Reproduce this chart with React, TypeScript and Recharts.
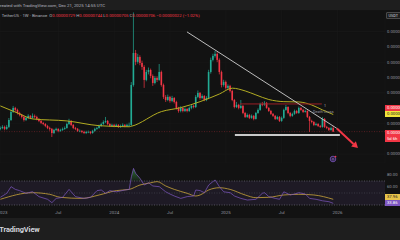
import {
  Area,
  Bar,
  CartesianGrid,
  ComposedChart,
  Line,
  ReferenceArea,
  ReferenceLine,
  XAxis,
  YAxis,
} from "recharts";

// prices in units of 0.00000001 USDT, one candle per week (week 0 = first week of 2023)
const firstWeek = -1;
const opens = [
  724, 730, 737, 724, 737, 782, 835, 861, 848, 828,
  815, 802, 782, 796, 809, 796, 809, 802, 789, 776,
  763, 756, 743, 730, 724, 697, 717, 724, 711, 717,
  724, 730, 756, 776, 750, 730, 724, 711, 711, 704,
  697, 704, 704, 697, 711, 724, 730, 743, 756, 769,
  776, 756, 743, 750, 743, 750, 737, 743, 750, 743,
  750, 750, 1011, 1220, 1162, 1194, 1155, 1129, 1044, 1096,
  1109, 1070, 1024, 1057, 1044, 1096, 1011, 933, 913, 933,
  907, 926, 900, 861, 841, 861, 841, 854, 841, 861,
  874, 867, 933, 959, 926, 939, 913, 926, 1096, 1175,
  1201, 1214, 1175, 1096, 1011, 1031, 992, 1005, 972, 913,
  867, 881, 861, 874, 828, 802, 815, 796, 809, 789,
  828, 848, 887, 881, 894, 861, 841, 822, 809, 789,
  802, 776, 796, 848, 867, 828, 809, 822, 841, 828,
  861, 848, 835, 841, 802, 776, 769, 750, 756, 743,
  737, 789, 737, 730, 717, 729,
];
const closes = [
  730, 737, 724, 737, 782, 835, 861, 848, 828, 815,
  802, 782, 796, 809, 796, 809, 802, 789, 776, 763,
  756, 743, 730, 724, 697, 717, 724, 711, 717, 724,
  730, 756, 776, 750, 730, 724, 711, 711, 704, 697,
  704, 704, 697, 711, 724, 730, 743, 756, 769, 776,
  756, 743, 750, 743, 750, 737, 743, 750, 743, 750,
  750, 1011, 1220, 1162, 1194, 1155, 1129, 1044, 1096, 1109,
  1070, 1024, 1057, 1044, 1096, 1011, 933, 913, 933, 907,
  926, 900, 861, 841, 861, 841, 854, 841, 861, 874,
  867, 933, 959, 926, 939, 913, 926, 1096, 1175, 1201,
  1214, 1175, 1096, 1011, 1031, 992, 1005, 972, 913, 867,
  881, 861, 874, 828, 802, 815, 796, 809, 789, 828,
  848, 887, 881, 894, 861, 841, 822, 809, 789, 802,
  776, 796, 848, 867, 828, 809, 822, 841, 828, 861,
  848, 835, 841, 802, 776, 769, 750, 756, 743, 737,
  789, 737, 730, 717, 729, 706,
];
const highs = [
  740, 748, 745, 750, 795, 850, 874, 868, 856, 836,
  822, 808, 805, 820, 815, 825, 818, 810, 795, 782,
  770, 762, 750, 738, 730, 724, 732, 728, 725, 733,
  740, 765, 790, 782, 756, 737, 730, 720, 716, 712,
  712, 713, 710, 718, 732, 738, 752, 765, 780, 802,
  782, 762, 758, 757, 758, 755, 752, 760, 756, 758,
  765, 1030, 1485, 1240, 1215, 1205, 1170, 1140, 1110, 1125,
  1118, 1080, 1070, 1068, 1148, 1105, 1020, 945, 948, 940,
  940, 932, 908, 868, 872, 866, 865, 860, 870, 885,
  882, 945, 975, 965, 950, 945, 938, 1110, 1190, 1215,
  1233, 1225, 1185, 1105, 1045, 1040, 1015, 1012, 980, 920,
  900, 888, 913, 880, 835, 825, 822, 818, 815, 835,
  858, 895, 900, 905, 900, 866, 848, 828, 815, 810,
  808, 805, 856, 880, 872, 835, 830, 850, 848, 870,
  866, 855, 850, 846, 808, 784, 775, 765, 762, 750,
  802, 795, 744, 736, 738, 744,
];
const lows = [
  715, 722, 715, 718, 730, 775, 828, 836, 818, 806,
  792, 772, 775, 788, 788, 790, 794, 780, 768, 755,
  748, 735, 722, 712, 671, 690, 710, 702, 705, 711,
  718, 725, 750, 742, 722, 716, 704, 702, 696, 690,
  690, 696, 689, 692, 705, 718, 725, 738, 750, 762,
  748, 736, 737, 735, 737, 730, 731, 736, 735, 737,
  740, 742, 1000, 1140, 1150, 1140, 1110, 992, 1035, 1080,
  1055, 1005, 1015, 1030, 1038, 1000, 920, 900, 905, 895,
  898, 890, 850, 830, 832, 832, 834, 832, 835, 852,
  858, 860, 925, 915, 918, 905, 905, 918, 1085, 1165,
  1190, 1160, 1080, 995, 1000, 980, 982, 962, 905, 858,
  860, 852, 855, 820, 795, 796, 788, 790, 780, 785,
  822, 842, 872, 875, 855, 835, 815, 802, 782, 783,
  769, 770, 790, 842, 820, 800, 803, 816, 822, 822,
  842, 828, 830, 795, 704, 760, 742, 744, 736, 730,
  732, 730, 722, 710, 712, 705,
];

// 50 week moving average
const maWeeks = [-1, 8, 14, 30, 45, 59, 60, 74, 83, 92, 101, 107, 113, 118, 124, 131, 138, 144, 149, 154];
const maValues = [874, 822, 789, 776, 745, 738, 741, 837, 863, 902, 952, 990, 972, 946, 916, 902, 900, 880, 848, 818];

// RSI 14 and its moving average
const rsiWeeks = [
  -1, 2, 4, 6, 8, 11, 14, 17, 21, 23, 25, 28, 31, 34, 38, 41, 44, 46, 48, 50, 53, 57, 59, 60, 61, 62,
  64, 66, 68, 70, 73, 76, 78, 80, 83, 86, 89, 90, 92, 94, 96, 98, 99, 101, 103, 106, 108, 111, 114,
  118, 121, 122, 124, 127, 129, 131, 134, 136, 138, 141, 143, 146, 149, 152, 154,
];
const rsiValues = [
  42.8, 49.5, 60.5, 56, 53.9, 49.5, 52.2, 43.9, 39.5, 33.9, 41, 42.8, 56, 43.9, 41, 42.8, 53.9, 55,
  49.5, 54, 52, 55, 56, 77, 91, 82.8, 74.5, 63.3, 67, 61.7, 60.5, 52, 48.3, 45, 41, 44, 45, 55, 54,
  50.5, 63.3, 69, 71.7, 60.5, 52, 50.5, 45, 41, 38.3, 39.5, 49.5, 50.5, 44, 41, 39.5, 52, 46.7, 48.3,
  50.5, 48.3, 41, 39.5, 37, 35.5, 32.8,
];
const rsiMaWeeks = [-1, 14, 22, 27, 37, 45, 53, 59, 64, 69, 72, 76, 80, 86, 90, 92, 96, 101, 106, 113, 118, 124, 131, 138, 145, 154];
const rsiMaValues = [39.5, 50.5, 47.8, 42.8, 41, 46.7, 54, 56, 63.3, 67, 69, 61.7, 56, 49.5, 45, 46.7, 55, 58.8, 56, 46.7, 42.2, 42.8, 46.7, 47.8, 46.7, 39.5];

const timeTickWeeks = [0, 26, 52, 78, 104, 130, 156];
const timeTickLabels = ["2023", "Jul", "2024", "Jul", "2025", "Jul", "2026"];
// the 0.00000660 and 0.00000860 ticks sit under the price labels, as do RSI 40
const priceTicks = [560, 760, 960, 1060, 1160, 1260, 1360];
const rsiTicks = [60, 80];

// drawings
const trendLine = [{ x: 85.9, y: 1358 }, { x: 155.7, y: 727 }];
const arrowLine = [{ x: 155.7, y: 727 }, { x: 165.5, y: 599 }];
const resistance = [{ x: 110.6, y: 887 }, { x: 148.7, y: 887 }];
const support = [{ x: 108.2, y: 684 }, { x: 157.1, y: 684 }];

const GREEN = "#22ab94";
const RED = "#f23645";
const TEXT = "#9598a1";
const FONT = "Roboto, 'Noto Sans', sans-serif";
const X_DOMAIN: [number, number] = [-1.16, 178.1];

const priceRows: any[] = closes.map((c, i) => ({
  w: firstWeek + i,
  open: opens[i],
  high: highs[i],
  low: lows[i],
  close: c,
  ma: null,
}));
maWeeks.forEach((w, k) => {
  priceRows[w - firstWeek].ma = maValues[k];
});

const rsiMap = new Map<number, any>();
rsiWeeks.forEach((w, k) => rsiMap.set(w, { ...(rsiMap.get(w) || { w }), rsi: rsiValues[k] }));
rsiMaWeeks.forEach((w, k) => rsiMap.set(w, { ...(rsiMap.get(w) || { w }), rsiMa: rsiMaValues[k] }));
const rsiRows = [...rsiMap.values()].sort((a, b) => a.w - b.w);

const rsiMax = Math.max(...rsiValues);
const rsiMin = Math.min(...rsiValues);
const overOff = (rsiMax - 70) / (rsiMax - rsiMin);

const fmtPrice = (v: number) => (v / 1e8).toFixed(8);
const fmtTime = (v: number) => timeTickLabels[timeTickWeeks.indexOf(v)] ?? "";

const Candle = (props: any) => {
  const { x, y, width, height, payload } = props;
  if (!payload) return null;
  const { open, close, high, low } = payload;
  const top = Math.min(y, y + height);
  const bottom = Math.max(y, y + height);
  const k = (bottom - top) / (high - low || 1);
  const cx = x + width / 2;
  const yo = top + (high - open) * k;
  const yc = top + (high - close) * k;
  const color = close >= open ? GREEN : RED;
  return (
    <g>
      <line x1={cx} x2={cx} y1={top} y2={bottom} stroke={color} strokeWidth={0.7} />
      <rect x={cx - 0.8} y={Math.min(yo, yc)} width={1.6} height={Math.max(Math.abs(yo - yc), 0.6)} fill={color} />
    </g>
  );
};

const Arrow = (p: any) => {
  const { x1, y1, x2, y2 } = p;
  const a = Math.atan2(y2 - y1, x2 - x1);
  const bx = x2 - 6 * Math.cos(a);
  const by = y2 - 6 * Math.sin(a);
  const px = -Math.sin(a) * 3.5;
  const py = Math.cos(a) * 3.5;
  return (
    <g>
      <line x1={x1} y1={y1} x2={bx} y2={by} stroke={RED} strokeWidth={2} />
      <polygon points={`${x2},${y2} ${bx + px},${by + py} ${bx - px},${by - py}`} fill={RED} />
    </g>
  );
};

const box = (top: number, h: number, bg: string, color: string): any => ({
  position: "absolute",
  left: 385,
  top,
  width: 15,
  height: h,
  background: bg,
  color,
  fontSize: 4.2,
  lineHeight: "5.5px",
  paddingLeft: 2,
  overflow: "hidden",
  whiteSpace: "nowrap",
  boxSizing: "border-box",
});

const App = () => {
  return (
    <div
      style={{
        position: "absolute",
        left: 0,
        top: 0,
        width: 400,
        height: 240,
        background: "#121212",
        overflow: "hidden",
        fontFamily: FONT,
      }}
    >
      <div style={{ position: "absolute", left: 0, top: 0, width: 400, height: 10, background: "#1e1e1e" }}>
        <div style={{ position: "absolute", left: -2.3, top: 2.5, fontSize: 4.4, color: "#b2b5be", whiteSpace: "nowrap" }}>
          created with TradingView.com, Dec 21, 2025 14:55 UTC
        </div>
      </div>

      <div style={{ position: "absolute", left: 0, top: 10 }}>
        <ComposedChart width={400} height={153} data={priceRows} margin={{ top: 0, right: 0, bottom: 0, left: 0 }}>
          <CartesianGrid stroke="#1a1a1a" strokeWidth={0.6} />
          <XAxis dataKey="w" type="number" domain={X_DOMAIN} ticks={timeTickWeeks} allowDataOverflow hide />
          <YAxis
            orientation="right"
            width={15}
            domain={[501, 1501]}
            ticks={priceTicks}
            allowDataOverflow
            axisLine={false}
            tickLine={false}
            tickSize={0}
            tickMargin={2}
            tickFormatter={fmtPrice}
            tick={{ fontSize: 4.2, fill: TEXT, fontFamily: FONT }}
          />
          <ReferenceLine y={706} stroke={RED} strokeOpacity={0.5} strokeDasharray="1 1.5" strokeWidth={0.6} />
          <Bar dataKey={(d: any) => [d.low, d.high]} barSize={2} shape={<Candle />} isAnimationActive={false} />
          <Line dataKey="ma" type="monotone" connectNulls stroke="#b3ac22" strokeWidth={1} dot={false} isAnimationActive={false} />
          <ReferenceLine segment={resistance} stroke="#9c1f26" strokeWidth={1} />
          <ReferenceLine segment={support} stroke="#c9c9c9" strokeWidth={1.8} />
          <ReferenceLine segment={trendLine} stroke="#cfcfcf" strokeWidth={0.9} />
          <ReferenceLine segment={arrowLine} stroke={RED} shape={<Arrow />} />
        </ComposedChart>
      </div>

      <div style={{ position: "absolute", left: 0, top: 163 }}>
        <ComposedChart width={400} height={55} data={rsiRows} margin={{ top: 0, right: 0, bottom: 0, left: 0 }}>
          <defs>
            <linearGradient id="rsiOver" x1="0" y1="0" x2="0" y2="1">
              <stop offset={0} stopColor="#3fb24f" stopOpacity={0.95} />
              <stop offset={overOff} stopColor="#3fb24f" stopOpacity={0.15} />
              <stop offset={overOff} stopColor="#3fb24f" stopOpacity={0} />
            </linearGradient>
          </defs>
          <ReferenceArea y1={30} y2={70} fill="#7e57c2" fillOpacity={0.11} stroke="none" />
          <ReferenceLine y={70} stroke="#787b86" strokeDasharray="1 1.5" strokeWidth={0.6} />
          <ReferenceLine y={50} stroke="#787b86" strokeOpacity={0.5} strokeDasharray="1 1.5" strokeWidth={0.6} />
          <ReferenceLine y={30} stroke="#787b86" strokeDasharray="1 1.5" strokeWidth={0.6} />
          <XAxis
            dataKey="w"
            type="number"
            domain={X_DOMAIN}
            ticks={timeTickWeeks}
            interval={0}
            allowDataOverflow
            height={10}
            axisLine={false}
            tickLine={false}
            tickSize={0}
            tickMargin={2.5}
            tickFormatter={fmtTime}
            tick={{ fontSize: 4.4, fill: TEXT, fontFamily: FONT }}
          />
          <YAxis
            orientation="right"
            width={15}
            domain={[25, 100]}
            ticks={rsiTicks}
            allowDataOverflow
            axisLine={false}
            tickLine={false}
            tickSize={0}
            tickMargin={2}
            tickFormatter={(v: number) => v.toFixed(2)}
            tick={{ fontSize: 4.2, fill: TEXT, fontFamily: FONT }}
          />
          <Area dataKey="rsi" baseValue={70} connectNulls stroke="none" fill="url(#rsiOver)" isAnimationActive={false} />
          <Line dataKey="rsiMa" connectNulls type="monotone" stroke="#c9a53a" strokeWidth={0.8} dot={false} isAnimationActive={false} />
          <Line dataKey="rsi" connectNulls stroke="#7e57c2" strokeWidth={0.7} dot={false} isAnimationActive={false} />
        </ComposedChart>
      </div>

      {/* legend line */}
      <div style={{ position: "absolute", left: 1.7, top: 12.6, fontSize: 4.3, color: "#b2b5be", whiteSpace: "nowrap" }}>
        TetherUS · 1W · Binance&nbsp; O<span style={{ color: RED }}>0.00000729</span> H
        <span style={{ color: RED }}>0.00000744</span> L<span style={{ color: RED }}>0.00000705</span> C
        <span style={{ color: RED }}>0.00000706</span> <span style={{ color: RED }}>−0.00000022 (−1.02%)</span>
      </div>

      {/* annotations */}
      <div style={{ position: "absolute", left: 324, top: 103.6, fontSize: 3.6, color: "#b2b5be" }}>1</div>
      <div style={{ position: "absolute", left: 313, top: 108.8, fontSize: 3.8, color: "#9598a1", whiteSpace: "nowrap" }}>
        Death Cross
      </div>
      <svg style={{ position: "absolute", left: 328, top: 154 }} width={10} height={10}>
        <circle cx={5} cy={5} r={2.8} fill="#2a1f3d" stroke="#7e57c2" strokeWidth={0.8} />
        <circle cx={5} cy={5.3} r={0.9} fill="none" stroke="#9a7fd6" strokeWidth={0.5} />
        <circle cx={7.5} cy={2.6} r={0.9} fill={RED} />
      </svg>

      {/* axis labels */}
      <div
        style={{
          position: "absolute",
          left: 386,
          top: 12,
          width: 16,
          height: 6.5,
          border: "0.5px solid #4a4a4a",
          borderRadius: 1,
          background: "#1e1e1e",
          color: "#d1d4dc",
          fontSize: 3.8,
          lineHeight: "6.5px",
          paddingLeft: 1.5,
          boxSizing: "border-box",
        }}
      >
        USDT
      </div>
      <div style={box(104.8, 5.8, RED, "#ffffff")}>0.00000887</div>
      <div style={box(111.2, 6.2, "#f2e43a", "#1e1e1e")}>0.00000818</div>
      <div style={{ ...box(130, 12, RED, "#ffffff"), lineHeight: "5.8px" }}>
        0.00000706
        <br />
        5d 6h
      </div>
      <div style={box(194, 5.5, "#e8c34a", "#1e1e1e")}>37.96</div>
      <div style={box(200.3, 5.5, "#7e57c2", "#ffffff")}>33.86</div>

      <div style={{ position: "absolute", left: 0, top: 218, width: 400, height: 22, background: "#1e1e1e" }}>
        <div
          style={{
            position: "absolute",
            left: -0.8,
            top: 6.5,
            fontSize: 7.4,
            fontWeight: 700,
            color: "#d1d4dc",
            letterSpacing: -0.1,
          }}
        >
          TradingView
        </div>
      </div>
    </div>
  );
};

export default App;
